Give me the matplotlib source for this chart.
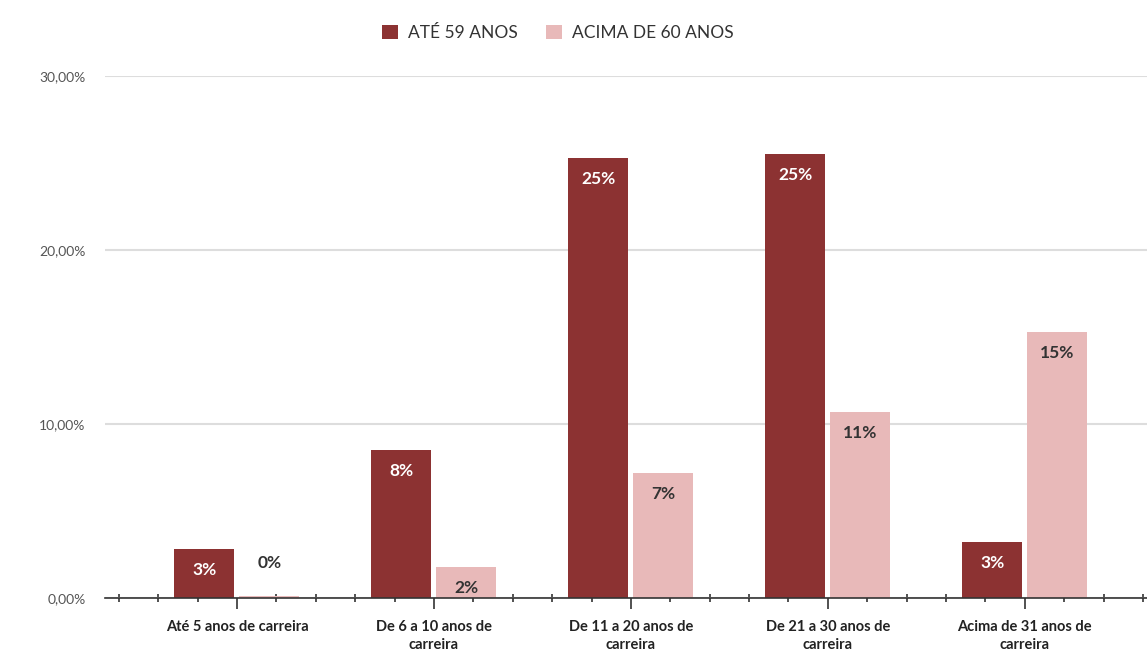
import numpy as np
import matplotlib.pyplot as plt
from matplotlib.ticker import FuncFormatter, MultipleLocator

plt.rcParams['font.family'] = ['Lato', 'DejaVu Sans']

categorias = ['Até 5 anos de carreira', 'De 6 a 10 anos de\ncarreira',
              'De 11 a 20 anos de\ncarreira', 'De 21 a 30 anos de\ncarreira',
              'Acima de 31 anos de\ncarreira']
ate_59 = [2.8, 8.5, 25.3, 25.5, 3.2]
acima_60 = [0.1, 1.8, 7.2, 10.7, 15.3]
rot_ate_59 = ['3%', '8%', '25%', '25%', '3%']
rot_acima_60 = ['0%', '2%', '7%', '11%', '15%']
series = ['ATÉ 59 ANOS', 'ACIMA DE 60 ANOS']

cor_escura = '#8C3232'
cor_clara = '#E8B9B9'

fig = plt.figure(figsize=(11.47, 6.54), dpi=100)
ax = fig.add_axes([0.0915, 0.0856, 0.9085, 0.798])

x = np.arange(len(categorias))
w = 0.305
b1 = ax.bar(x - 0.165, ate_59, w, color=cor_escura, label=series[0], zorder=3)
b2 = ax.bar(x + 0.165, acima_60, w, color=cor_clara, label=series[1], zorder=3)

for rect, txt in zip(b1, rot_ate_59):
    ax.annotate(txt, (rect.get_x() + rect.get_width() / 2, rect.get_height()),
                xytext=(0, -15), textcoords='offset points', ha='center', va='center',
                color='white', fontsize=12.5, fontweight='bold', zorder=4)
for rect, txt in zip(b2, rot_acima_60):
    h = rect.get_height()
    dy = 24 if h < 1 else -15
    ax.annotate(txt, (rect.get_x() + rect.get_width() / 2, h),
                xytext=(0, dy), textcoords='offset points', ha='center', va='center',
                color='#333333', fontsize=12.5, fontweight='bold', zorder=4)

ax.set_ylim(0, 30)
ax.set_xlim(-0.67, 4.62)
ax.yaxis.set_major_locator(MultipleLocator(10))
ax.yaxis.set_major_formatter(FuncFormatter(lambda v, p: f'{v:.2f}%'.replace('.', ',')))
ax.grid(axis='y', color='#DDDDDD', lw=1.5, zorder=0)
ax.tick_params(axis='y', length=0, pad=14, labelsize=10, labelcolor='#555555')

ax.set_xticks(x)
ax.set_xticklabels(categorias, fontsize=10.5, fontweight='bold', color='#222222',
                   linespacing=1.3)
ax.xaxis.set_minor_locator(MultipleLocator(0.2))
ax.tick_params(axis='x', which='major', direction='out', length=8, width=1.2,
               color='#333333', pad=8)
ax.tick_params(axis='x', which='minor', direction='inout', length=6, width=1.2,
               color='#333333')

for s in ['top', 'right', 'left']:
    ax.spines[s].set_visible(False)
ax.spines['bottom'].set_color('#333333')
ax.spines['bottom'].set_linewidth(1.2)
ax.spines['bottom'].set_zorder(5)

fig.legend(loc='center', bbox_to_anchor=(558 / 1147, 1 - 33 / 654), ncol=2,
           frameon=False, fontsize=12.5, handlelength=0.9, handleheight=0.9,
           handletextpad=0.6, columnspacing=1.6, labelcolor='#333333')

fig.savefig('out.png', dpi=100)
